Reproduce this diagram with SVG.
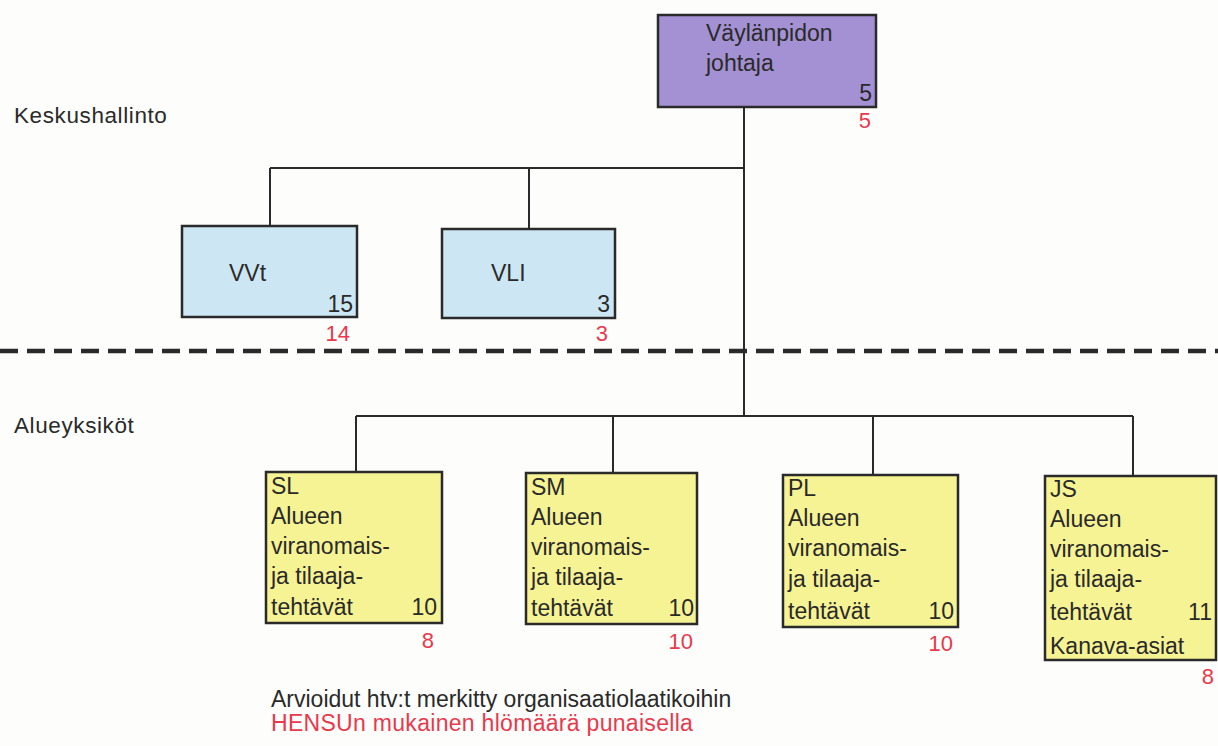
<svg xmlns="http://www.w3.org/2000/svg" width="1218" height="746" viewBox="0 0 1218 746">
<style>
text{font-family:"Liberation Sans",Arial,sans-serif;fill:#2a2a2a}
.b{font-size:23px}
.r{fill:#e8394d;font-size:22px}
.lab{font-size:22.5px;letter-spacing:0.6px}
.ft{font-size:23px}
.box{stroke:#2a2a2a;stroke-width:2.5}
.p{fill:#a391d3}.c{fill:#cde6f3}.y{fill:#f6f394}
.ln{stroke:#2a2a2a;stroke-width:2;fill:none}
</style>
<rect width="1218" height="746" fill="#fdfdfb"/>
<g id="connectors">
<path class="ln" d="M744 107V416M270 168H744M270 168V226M529 168V229M356 416H1133M356 416V472M613 416V473M873 416V475M1133 416V476"/>
<line x1="0" y1="351" x2="1218" y2="351" stroke="#2a2a2a" stroke-width="4.5" stroke-dasharray="18 9"/>
</g>
<g id="labels">
<text x="14" y="123" class="lab">Keskushallinto</text>
<text x="14" y="433" class="lab">Alueyksiköt</text>
<text x="271" y="707" class="ft">Arvioidut htv:t merkitty organisaatiolaatikoihin</text>
<text x="271" y="731" class="ft" style="fill:#e8394d;letter-spacing:0.3px">HENSUn mukainen hlömäärä punaisella</text>
</g>
<g id="n-johtaja">
<rect class="box p" x="658" y="15" width="218" height="92"/>
<text class="b" x="706" y="41">Väylänpidon</text>
<text class="b" x="706" y="71">johtaja</text>
<text class="b" x="872" y="101" text-anchor="end">5</text>
<text class="r" x="871" y="128" text-anchor="end">5</text>
</g>
<g id="n-vvt">
<rect class="box c" x="182" y="226" width="175" height="91"/>
<text class="b" x="229" y="281">VVt</text>
<text class="b" x="353" y="312" text-anchor="end">15</text>
<text class="r" x="350" y="341" text-anchor="end">14</text>
</g>
<g id="n-vli">
<rect class="box c" x="442" y="229" width="173" height="89"/>
<text class="b" x="491" y="281">VLI</text>
<text class="b" x="610" y="312" text-anchor="end">3</text>
<text class="r" x="608" y="341" text-anchor="end">3</text>
</g>
<g id="n-sl">
<rect class="box y" x="266" y="472" width="176" height="151"/>
<text class="b" x="271" y="494">SL</text>
<text class="b" x="271" y="524">Alueen</text>
<text class="b" x="271" y="554">viranomais-</text>
<text class="b" x="271" y="584">ja tilaaja-</text>
<text class="b" x="271" y="615">tehtävät</text>
<text class="b" x="437" y="615" text-anchor="end">10</text>
<text class="r" x="434" y="648" text-anchor="end">8</text>
</g>
<g id="n-sm">
<rect class="box y" x="526" y="473" width="171" height="151"/>
<text class="b" x="531" y="495">SM</text>
<text class="b" x="531" y="525">Alueen</text>
<text class="b" x="531" y="555">viranomais-</text>
<text class="b" x="531" y="585">ja tilaaja-</text>
<text class="b" x="531" y="616">tehtävät</text>
<text class="b" x="694" y="616" text-anchor="end">10</text>
<text class="r" x="693" y="649" text-anchor="end">10</text>
</g>
<g id="n-pl">
<rect class="box y" x="783" y="475" width="175" height="152"/>
<text class="b" x="788" y="496">PL</text>
<text class="b" x="788" y="526">Alueen</text>
<text class="b" x="788" y="556">viranomais-</text>
<text class="b" x="788" y="587">ja tilaaja-</text>
<text class="b" x="788" y="619">tehtävät</text>
<text class="b" x="954" y="619" text-anchor="end">10</text>
<text class="r" x="953" y="651" text-anchor="end">10</text>
</g>
<g id="n-js">
<rect class="box y" x="1045" y="476" width="171" height="184"/>
<text class="b" x="1050" y="497">JS</text>
<text class="b" x="1050" y="527">Alueen</text>
<text class="b" x="1050" y="557">viranomais-</text>
<text class="b" x="1050" y="587">ja tilaaja-</text>
<text class="b" x="1050" y="620">tehtävät</text>
<text class="b" x="1212" y="620" text-anchor="end">11</text>
<text class="b" x="1050" y="654">Kanava-asiat</text>
<text class="r" x="1214" y="684" text-anchor="end">8</text>
</g>
</svg>
